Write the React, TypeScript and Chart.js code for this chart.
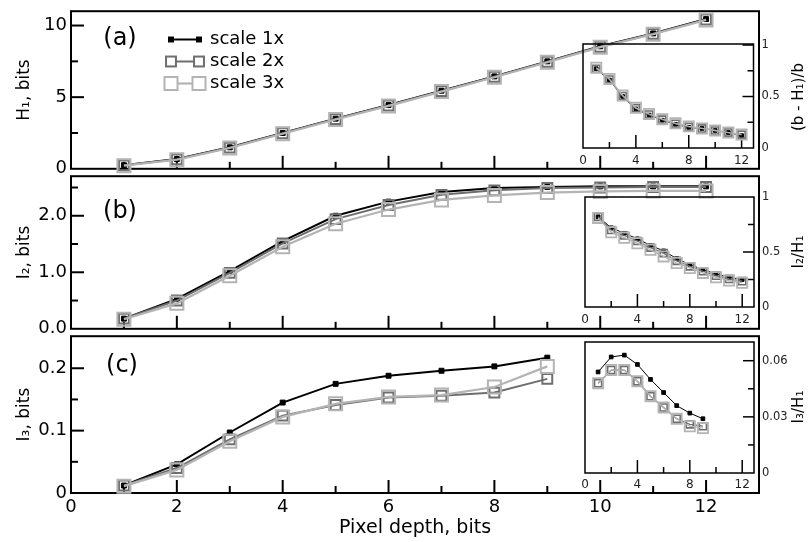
import React, { useEffect, useRef } from 'react';
import { Chart, registerables } from 'chart.js';

Chart.register(...registerables);

const FONT = "'DejaVu Sans', 'Liberation Sans', Arial, sans-serif";
Chart.defaults.font.family = FONT;
Chart.defaults.color = '#000';

// ---------------- data ----------------
const seriesNames = ['scale 1x', 'scale 2x', 'scale 3x'];

const depthAB = [1, 2, 3, 4, 5, 6, 7, 8, 9, 10, 11, 12];
const depthC = [1, 2, 3, 4, 5, 6, 7, 8, 9];

// (a) H1, bits
const h1Scale1 = [0.25, 0.68, 1.5, 2.5, 3.5, 4.45, 5.45, 6.45, 7.5, 8.55, 9.45, 10.45];
const h1Scale2 = [0.24, 0.66, 1.48, 2.48, 3.47, 4.42, 5.42, 6.42, 7.47, 8.52, 9.42, 10.42];
const h1Scale3 = [0.22, 0.63, 1.45, 2.45, 3.44, 4.39, 5.39, 6.39, 7.44, 8.49, 9.39, 10.39];

// (b) I2, bits
const i2Scale1 = [0.18, 0.53, 1.02, 1.55, 2.0, 2.25, 2.42, 2.49, 2.51, 2.52, 2.52, 2.52];
const i2Scale2 = [0.18, 0.5, 0.99, 1.51, 1.94, 2.19, 2.37, 2.45, 2.49, 2.5, 2.51, 2.51];
const i2Scale3 = [0.17, 0.45, 0.94, 1.45, 1.86, 2.11, 2.28, 2.36, 2.41, 2.43, 2.44, 2.44];

// (c) I3, bits
const i3Scale1 = [0.012, 0.046, 0.097, 0.145, 0.175, 0.188, 0.196, 0.203, 0.217];
const i3Scale2 = [0.012, 0.04, 0.086, 0.124, 0.141, 0.153, 0.156, 0.161, 0.183];
const i3Scale3 = [0.011, 0.037, 0.083, 0.122, 0.143, 0.154, 0.157, 0.17, 0.203];

// insets
const relA1 = [0.77, 0.66, 0.5, 0.38, 0.32, 0.27, 0.23, 0.2, 0.19, 0.17, 0.15, 0.12];
const relA2 = [0.77, 0.665, 0.505, 0.385, 0.325, 0.275, 0.235, 0.205, 0.19, 0.17, 0.15, 0.13];
const relA3 = [0.78, 0.67, 0.51, 0.39, 0.33, 0.28, 0.24, 0.21, 0.19, 0.17, 0.15, 0.13];

const relB1 = [0.82, 0.72, 0.67, 0.62, 0.56, 0.51, 0.44, 0.385, 0.34, 0.3, 0.27, 0.25];
const relB2 = [0.82, 0.7, 0.65, 0.6, 0.54, 0.49, 0.42, 0.37, 0.325, 0.285, 0.255, 0.235];
const relB3 = [0.81, 0.68, 0.63, 0.58, 0.52, 0.46, 0.4, 0.355, 0.31, 0.27, 0.24, 0.22];

const relC1 = [0.054, 0.062, 0.063, 0.058, 0.05, 0.043, 0.036, 0.032, 0.029];
const relC2 = [0.048, 0.055, 0.055, 0.049, 0.041, 0.035, 0.029, 0.026, 0.025];
const relC3 = [0.048, 0.055, 0.055, 0.049, 0.041, 0.035, 0.029, 0.025, 0.024];

// ticks
const xMajorTicks = [0, 2, 4, 6, 8, 10, 12];
const xMinorTicks = [1, 3, 5, 7, 9, 11];
const xTickLabels = ['0', '2', '4', '6', '8', '10', '12'];

const yTicksA = [0, 5, 10];
const yTickLabelsA = ['0', '5', '10'];
const yMinorA = [2.5, 7.5];
const yTicksB = [0, 1, 2];
const yTickLabelsB = ['0.0', '1.0', '2.0'];
const yMinorB = [0.5, 1.5, 2.5];
const yTicksC = [0, 0.1, 0.2];
const yTickLabelsC = ['0', '0.1', '0.2'];
const yMinorC = [0.05, 0.15];

const insetXTicks = [0, 4, 8, 12];
const insetXLabels = ['0', '4', '8', '12'];
const insetXMinor = [2, 6, 10];
const insetYTicksAB = [0, 0.5, 1];
const insetYLabelsAB = ['0', '0.5', '1'];
const insetYMinorAB = [0.25, 0.75];
const insetYTicksC = [0, 0.03, 0.06];
const insetYLabelsC = ['0', '0.03', '0.06'];
const insetYMinorC = [0.015, 0.045];

// ---------------- styles ----------------
const COLORS = ['#000000', '#6e6e6e', '#b4b4b4'];
const CLEAR = 'rgba(0,0,0,0)';
const MAIN_STYLE = [
  { lw: 2, r: 3.5, pbw: 1, fill: '#000000' },
  { lw: 2, r: 7, pbw: 2, fill: CLEAR },
  { lw: 2.2, r: 9.2, pbw: 2, fill: CLEAR },
];
const INSET_STYLE = [
  { lw: 1, r: 2.6, pbw: 1, fill: '#000000' },
  { lw: 1.3, r: 5, pbw: 1.6, fill: CLEAR },
  { lw: 1.3, r: 7.2, pbw: 1.8, fill: CLEAR },
];

type TickSet = {
  axis: 'x' | 'y';
  side: 'bottom' | 'left' | 'right';
  major: number[];
  minor: number[];
  majorLen: number;
  minorLen: number;
};

function framePlugin(lineWidth: number, tickSets: TickSet[]) {
  return {
    id: 'frameTicks',
    beforeDatasetsDraw(chart: any) {
      const { ctx, chartArea: a } = chart;
      ctx.save();
      ctx.strokeStyle = '#000';
      ctx.lineWidth = lineWidth;
      ctx.strokeRect(a.left, a.top, a.right - a.left, a.bottom - a.top);
      for (const t of tickSets) {
        const s = chart.scales[t.axis];
        const draw = (v: number, len: number) => {
          const p = s.getPixelForValue(v);
          ctx.beginPath();
          if (t.side === 'bottom') {
            ctx.moveTo(p, a.bottom);
            ctx.lineTo(p, a.bottom - len);
          } else if (t.side === 'left') {
            ctx.moveTo(a.left, p);
            ctx.lineTo(a.left + len, p);
          } else {
            ctx.moveTo(a.right, p);
            ctx.lineTo(a.right - len, p);
          }
          ctx.stroke();
        };
        t.major.forEach((v) => draw(v, t.majorLen));
        t.minor.forEach((v) => draw(v, t.minorLen));
      }
      ctx.restore();
    },
  };
}

type TextItem = { text: string; x: number; y: number; size: number; rotate?: boolean; align?: CanvasTextAlign };

function textPlugin(items: TextItem[], ox: number, oy: number, legend: boolean) {
  return {
    id: 'texts',
    afterDraw(chart: any) {
      const { ctx } = chart;
      ctx.save();
      ctx.fillStyle = '#000';
      ctx.textBaseline = 'middle';
      for (const it of items) {
        ctx.font = `${it.size}px ${FONT}`;
        ctx.textAlign = it.align || 'center';
        if (it.rotate) {
          ctx.save();
          ctx.translate(it.x - ox, it.y - oy);
          ctx.rotate(-Math.PI / 2);
          ctx.fillText(it.text, 0, 0);
          ctx.restore();
        } else {
          ctx.fillText(it.text, it.x - ox, it.y - oy);
        }
      }
      if (legend) {
        const rows = [39.5, 61.5, 83.5];
        const x1 = 171 - ox;
        const x2 = 199 - ox;
        seriesNames.forEach((name, i) => {
          const y = rows[i] - oy;
          const st = MAIN_STYLE[i];
          ctx.strokeStyle = COLORS[i];
          ctx.lineWidth = st.lw;
          ctx.beginPath();
          ctx.moveTo(x1, y);
          ctx.lineTo(x2, y);
          ctx.stroke();
          const half = st.r * Math.SQRT1_2;
          for (const cx of [x1, x2]) {
            ctx.fillStyle = st.fill !== CLEAR ? st.fill : '#fff';
            ctx.fillRect(cx - half, y - half, half * 2, half * 2);
            ctx.lineWidth = st.pbw;
            ctx.strokeRect(cx - half, y - half, half * 2, half * 2);
          }
          ctx.fillStyle = '#000';
          ctx.font = `18px ${FONT}`;
          ctx.textAlign = 'left';
          ctx.fillText(name, 210 - ox, y);
        });
      }
      ctx.restore();
    },
  };
}

function makeDatasets(x: number[], series: number[][], styles: typeof MAIN_STYLE) {
  return series.map((vals, i) => ({
    label: seriesNames[i],
    data: x.map((xv, j) => ({ x: xv, y: vals[j] })),
    borderColor: COLORS[i],
    backgroundColor: styles[i].fill,
    borderWidth: styles[i].lw,
    pointStyle: 'rect',
    pointRadius: styles[i].r,
    pointBorderWidth: styles[i].pbw,
    pointBorderColor: COLORS[i],
    pointBackgroundColor: styles[i].fill,
    tension: 0,
    fill: false,
    order: 2 - i,
    clip: false,
  }));
}

type MainSpec = {
  top: number;
  height: number;
  areaTop: number;
  areaBottom: number;
  x: number[];
  series: number[][];
  yMax: number;
  yTicks: number[];
  yLabels: string[];
  yMinor: number[];
  yTitle: string;
  showX: boolean;
  texts: TextItem[];
  legend: boolean;
};

const CW = 809;
const AREA_LEFT = 71;
const AREA_RIGHT = 759;

function mainConfig(p: MainSpec): any {
  const xH = p.top + p.height - p.areaBottom;
  return {
    type: 'line',
    data: { datasets: makeDatasets(p.x, p.series, MAIN_STYLE) },
    options: {
      responsive: false,
      animation: false,
      events: [],
      layout: { padding: { top: p.areaTop - p.top, left: 0, right: CW - AREA_RIGHT, bottom: 0 } },
      plugins: { legend: { display: false }, tooltip: { enabled: false } },
      scales: {
        x: {
          type: 'linear',
          position: 'bottom',
          min: 0,
          max: 13,
          grid: { display: false, drawTicks: false },
          border: { display: false },
          ticks: {
            display: p.showX,
            autoSkip: false,
            maxRotation: 0,
            padding: 4,
            color: '#000',
            font: { size: 18, family: FONT },
            callback: (_v: any, i: number) => xTickLabels[i],
          },
          title: {
            display: p.showX,
            text: 'Pixel depth, bits',
            color: '#000',
            font: { size: 19, family: FONT },
            padding: { top: 0, bottom: 3 },
          },
          afterBuildTicks: (s: any) => {
            s.ticks = xMajorTicks.map((v) => ({ value: v }));
          },
          afterFit: (s: any) => {
            s.height = xH;
            s.paddingLeft = 0;
            s.paddingRight = 0;
            s.paddingTop = 0;
            s.paddingBottom = 0;
          },
        },
        y: {
          type: 'linear',
          position: 'left',
          min: 0,
          max: p.yMax,
          grid: { display: false, drawTicks: false },
          border: { display: false },
          ticks: {
            padding: 4,
            color: '#000',
            font: { size: 18, family: FONT },
            callback: (_v: any, i: number) => p.yLabels[i],
          },
          title: {
            display: true,
            text: p.yTitle,
            color: '#000',
            font: { size: 17, family: FONT },
            padding: { top: 14, bottom: 0 },
          },
          afterBuildTicks: (s: any) => {
            s.ticks = p.yTicks.map((v) => ({ value: v }));
          },
          afterFit: (s: any) => {
            s.width = AREA_LEFT;
            s.paddingTop = 0;
            s.paddingBottom = 0;
            s.paddingLeft = 0;
            s.paddingRight = 0;
          },
        },
      },
    },
    plugins: [
      framePlugin(2, [
        { axis: 'x', side: 'bottom', major: xMajorTicks.slice(1), minor: xMinorTicks, majorLen: 13, minorLen: 7 },
        { axis: 'y', side: 'left', major: p.yTicks.slice(1), minor: p.yMinor, majorLen: 13, minorLen: 7 },
      ]),
      textPlugin(p.texts, 0, p.top, p.legend),
    ],
  };
}

type InsetSpec = {
  left: number;
  top: number;
  width: number;
  height: number;
  box: { left: number; top: number; right: number; bottom: number };
  x: number[];
  series: number[][];
  yMax: number;
  yTicks: number[];
  yLabels: string[];
  yMajor: number[];
  yMinor: number[];
  xPad: number;
  title: string;
  titleY: number;
};

function insetConfig(p: InsetSpec): any {
  const xH = p.top + p.height - p.box.bottom;
  const yW = p.left + p.width - p.box.right;
  return {
    type: 'line',
    data: { datasets: makeDatasets(p.x, p.series, INSET_STYLE) },
    options: {
      responsive: false,
      animation: false,
      events: [],
      layout: { padding: { top: p.box.top - p.top, left: p.box.left - p.left, right: 0, bottom: 0 } },
      plugins: { legend: { display: false }, tooltip: { enabled: false } },
      scales: {
        x: {
          type: 'linear',
          position: 'bottom',
          min: 0,
          max: 12.9,
          grid: { display: false, drawTicks: false },
          border: { display: false },
          ticks: {
            autoSkip: false,
            maxRotation: 0,
            padding: p.xPad,
            color: '#222',
            font: { size: 12, family: FONT },
            callback: (_v: any, i: number) => insetXLabels[i],
          },
          afterBuildTicks: (s: any) => {
            s.ticks = insetXTicks.map((v) => ({ value: v }));
          },
          afterFit: (s: any) => {
            s.height = xH;
            s.paddingLeft = 0;
            s.paddingRight = 0;
            s.paddingTop = 0;
            s.paddingBottom = 0;
          },
        },
        y: {
          type: 'linear',
          position: 'right',
          min: 0,
          max: p.yMax,
          grid: { display: false, drawTicks: false },
          border: { display: false },
          ticks: {
            padding: 8,
            color: '#222',
            font: { size: 11.5, family: FONT },
            callback: (_v: any, i: number) => p.yLabels[i],
          },
          afterBuildTicks: (s: any) => {
            s.ticks = p.yTicks.map((v) => ({ value: v }));
          },
          afterFit: (s: any) => {
            s.width = yW;
            s.paddingTop = 0;
            s.paddingBottom = 0;
            s.paddingLeft = 0;
            s.paddingRight = 0;
          },
        },
      },
    },
    plugins: [
      framePlugin(1.5, [
        { axis: 'x', side: 'bottom', major: insetXTicks.slice(1), minor: insetXMinor, majorLen: 13, minorLen: 6 },
        { axis: 'y', side: 'right', major: p.yMajor, minor: p.yMinor, majorLen: 11, minorLen: 6 },
      ]),
      textPlugin([{ text: p.title, x: 799, y: p.titleY, size: 15, rotate: true }], p.left, p.top, false),
    ],
  };
}

const panelA: MainSpec = {
  top: 0, height: 180, areaTop: 10, areaBottom: 172,
  x: depthAB, series: [h1Scale1, h1Scale2, h1Scale3],
  yMax: 11, yTicks: yTicksA, yLabels: yTickLabelsA, yMinor: yMinorA,
  yTitle: 'H₁, bits', showX: false,
  texts: [{ text: '(a)', x: 120, y: 39, size: 24 }], legend: true,
};
const panelB: MainSpec = {
  top: 165, height: 175, areaTop: 172, areaBottom: 332,
  x: depthAB, series: [i2Scale1, i2Scale2, i2Scale3],
  yMax: 2.7, yTicks: yTicksB, yLabels: yTickLabelsB, yMinor: yMinorB,
  yTitle: 'I₂, bits', showX: false,
  texts: [{ text: '(b)', x: 120, y: 212, size: 24 }], legend: false,
};
const panelC: MainSpec = {
  top: 325, height: 217, areaTop: 332, areaBottom: 493,
  x: depthC, series: [i3Scale1, i3Scale2, i3Scale3],
  yMax: 0.2514, yTicks: yTicksC, yLabels: yTickLabelsC, yMinor: yMinorC,
  yTitle: 'I₃, bits', showX: true,
  texts: [{ text: '(c)', x: 122, y: 366, size: 24 }], legend: false,
};

const insetA: InsetSpec = {
  left: 560, top: 30, width: 249, height: 142,
  box: { left: 583, top: 44, right: 753.5, bottom: 148 },
  x: depthAB, series: [relA1, relA2, relA3],
  yMax: 1.01, yTicks: insetYTicksAB, yLabels: insetYLabelsAB, yMajor: [0.5, 1], yMinor: insetYMinorAB,
  xPad: 6, title: '(b - H₁)/b', titleY: 97,
};
const insetB: InsetSpec = {
  left: 560, top: 185, width: 249, height: 147,
  box: { left: 585, top: 197, right: 754, bottom: 307 },
  x: depthAB, series: [relB1, relB2, relB3],
  yMax: 1.0, yTicks: insetYTicksAB, yLabels: insetYLabelsAB, yMajor: [0.5], yMinor: insetYMinorAB,
  xPad: 6, title: 'I₂/H₁', titleY: 252,
};
const insetC: InsetSpec = {
  left: 560, top: 330, width: 249, height: 163,
  box: { left: 585, top: 342, right: 754, bottom: 473 },
  x: depthC, series: [relC1, relC2, relC3],
  yMax: 0.07, yTicks: insetYTicksC, yLabels: insetYLabelsC, yMajor: [0.03, 0.06], yMinor: insetYMinorC,
  xPad: 5, title: 'I₃/H₁', titleY: 407,
};

function ChartCanvas(props: { left: number; top: number; width: number; height: number; build: () => any }) {
  const ref = useRef<HTMLCanvasElement>(null);
  useEffect(() => {
    const chart = new Chart(ref.current as HTMLCanvasElement, props.build());
    return () => chart.destroy();
  }, []);
  return (
    <canvas
      ref={ref}
      width={props.width}
      height={props.height}
      style={{ position: 'absolute', left: props.left, top: props.top, width: props.width, height: props.height }}
    />
  );
}

export default function App() {
  return (
    <div style={{ position: 'fixed', left: 0, top: 0, width: 809, height: 542, background: '#fff', overflow: 'hidden' }}>
      {[panelA, panelB, panelC].map((p, i) => (
        <ChartCanvas key={'m' + i} left={0} top={p.top} width={CW} height={p.height} build={() => mainConfig(p)} />
      ))}
      {[insetA, insetB, insetC].map((p, i) => (
        <ChartCanvas key={'i' + i} left={p.left} top={p.top} width={p.width} height={p.height} build={() => insetConfig(p)} />
      ))}
    </div>
  );
}
